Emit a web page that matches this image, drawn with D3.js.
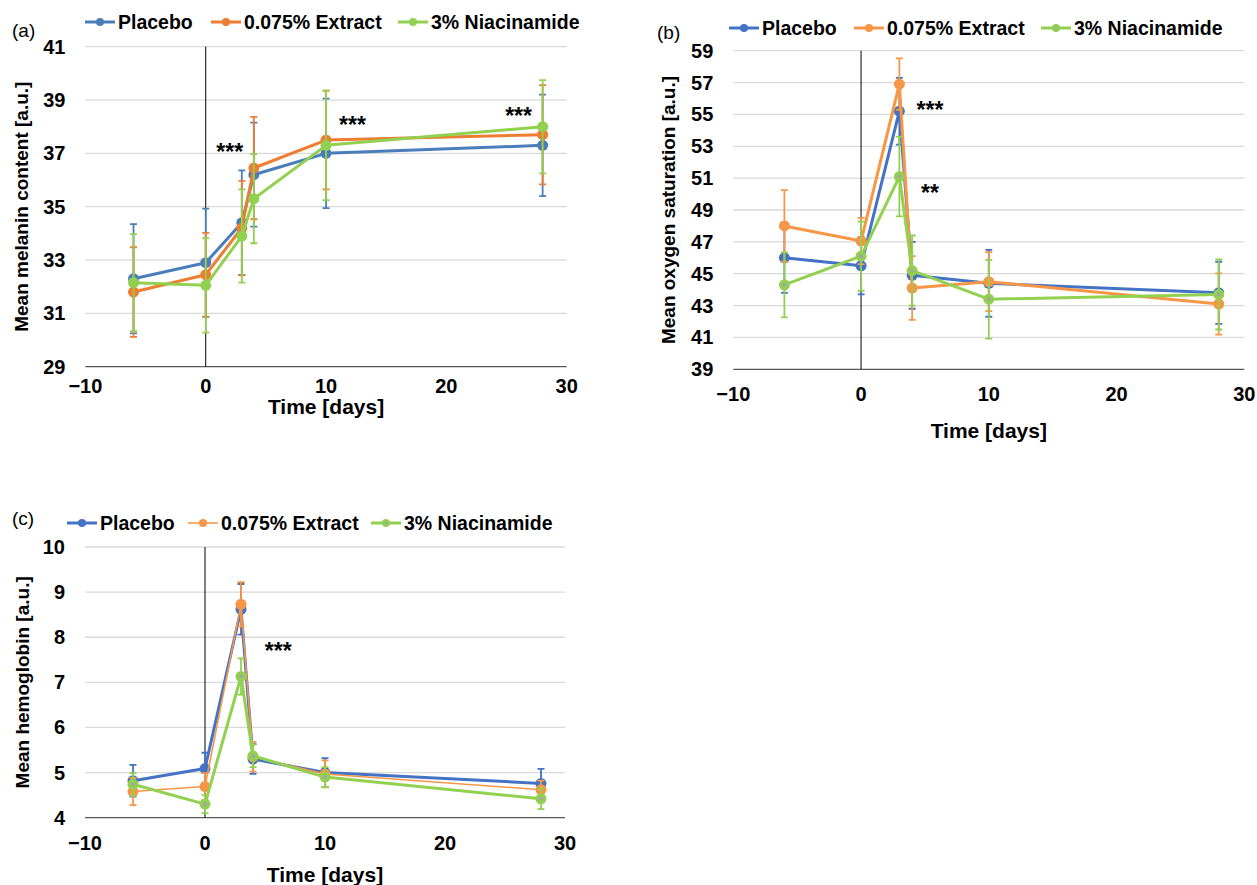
<!DOCTYPE html>
<html>
<head>
<meta charset="utf-8">
<script src="https://cdn.jsdelivr.net/npm/d3@7"></script>
<style>
  body { margin: 0; background: #fff; }
  text { font-family: "Liberation Sans", Arial, sans-serif; }
</style>
</head>
<body>
<svg id="svg" width="1257" height="885"></svg>
<script>
// time points (days) shared by all three panels
var days = [-6, 0, 3, 4, 10, 28];
var seriesNames = ["Placebo", "0.075% Extract", "3% Niacinamide"];

// (a) melanin
var melaninPlacebo = [32.3, 32.9, 34.4, 36.2, 37.0, 37.3];
var melaninPlaceboSd = [2.05, 2.03, 1.96, 1.95, 2.05, 1.9];
var melaninExtract = [31.8, 32.45, 34.2, 36.45, 37.5, 37.7];
var melaninExtractSd = [1.68, 1.57, 1.77, 1.92, 1.85, 1.86];
var melaninNiacin = [32.15, 32.05, 33.9, 35.3, 37.3, 38.0];
var melaninNiacinSd = [1.82, 1.77, 1.75, 1.67, 2.05, 1.75];

// (b) oxygen saturation
var oxyPlacebo = [46.0, 45.5, 55.2, 44.9, 44.4, 43.8];
var oxyPlaceboSd = [2.2, 1.8, 2.1, 2.1, 2.1, 1.95];
var oxyExtract = [48.0, 47.05, 56.9, 44.1, 44.5, 43.1];
var oxyExtractSd = [2.25, 1.45, 1.62, 2.0, 1.85, 1.92];
var oxyNiacin = [44.3, 46.1, 51.1, 45.2, 43.4, 43.7];
var oxyNiacinSd = [2.04, 2.17, 2.5, 2.2, 2.47, 2.2];

// (c) hemoglobin
var hbPlacebo = [4.82, 5.09, 8.62, 5.3, 5.0, 4.76];
var hbPlaceboSd = [0.35, 0.35, 0.56, 0.33, 0.32, 0.32];
var hbExtract = [4.58, 4.69, 8.73, 5.35, 4.97, 4.62];
var hbExtractSd = [0.3, 0.3, 0.49, 0.33, 0.3, 0.2];
var hbNiacin = [4.74, 4.3, 7.13, 5.37, 4.9, 4.42];
var hbNiacinSd = [0.25, 0.2, 0.4, 0.25, 0.22, 0.23];

// axis ticks
var xTicks = [-10, 0, 10, 20, 30];
var melaninTicks = [29, 31, 33, 35, 37, 39, 41];
var oxyTicks = [39, 41, 43, 45, 47, 49, 51, 53, 55, 57, 59];
var hbTicks = [4, 5, 6, 7, 8, 9, 10];

// significance marks [day, value, text]
var melaninStars = [[2.0, 37.24, "***"], [12.2, 38.25, "***"], [26.0, 38.6, "***"]];
var oxyStars = [[5.4, 55.6, "***"], [5.4, 50.4, "**"]];
var hbStars = [[6.1, 7.8, "***"]];

var svg = d3.select("#svg");

function drawPanel(p) {
	var g = svg.append("g");
	var x = d3.scaleLinear().domain([-10, 30]).range([p.left, p.right]);
	var y = d3.scaleLinear().domain([p.yTicks[0], p.yTicks[p.yTicks.length - 1]]).range([p.bottom, p.top]);

	// gridlines
	g.selectAll(".grid").data(p.yTicks.slice(1)).enter().append("line")
		.attr("x1", p.left).attr("x2", p.right)
		.attr("y1", d => y(d)).attr("y2", d => y(d))
		.style("stroke", "#d9d9d9").style("stroke-width", 1.3);

	// x axis line + vertical axis crossing at 0
	g.append("line").attr("x1", p.left).attr("x2", p.right)
		.attr("y1", p.bottom).attr("y2", p.bottom)
		.style("stroke", "#595959").style("stroke-width", 1.3);
	g.append("line").attr("x1", x(0)).attr("x2", x(0))
		.attr("y1", p.top).attr("y2", p.bottom)
		.style("stroke", "#000").style("stroke-width", 1);

	// tick labels
	g.selectAll(".yl").data(p.yTicks).enter().append("text")
		.attr("x", p.left - 20).attr("y", d => y(d) + 7)
		.attr("text-anchor", "end")
		.style("font-size", "20px").style("font-weight", "bold")
		.text(d => d);
	g.selectAll(".xl").data(xTicks).enter().append("text")
		.attr("x", d => x(d)).attr("y", p.bottom + p.tickOff)
		.attr("text-anchor", "middle")
		.style("font-size", "20px").style("font-weight", "bold")
		.text(d => d < 0 ? "\u2212" + Math.abs(d) : d);

	// axis titles
	g.append("text")
		.attr("transform", "translate(" + (p.titleX) + "," + ((p.top + p.bottom) / 2) + ") rotate(-90)")
		.attr("text-anchor", "middle").attr("dy", "0.35em")
		.style("font-size", "19px").style("font-weight", "bold")
		.text(p.yTitle);
	g.append("text")
		.attr("x", (p.left + p.right) / 2).attr("y", p.xTitleY)
		.attr("text-anchor", "middle")
		.style("font-size", "21px").style("font-weight", "bold")
		.text("Time [days]");

	// panel letter
	g.append("text").attr("x", p.letterX).attr("y", p.letterY)
		.style("font-size", "19px").text(p.letter);

	// series
	var line = d3.line().x(d => x(d[0])).y(d => y(d[1]));
	p.series.forEach(function(s, si) {
		var pts = days.map((d, i) => [d, s.values[i], s.sd[i]]);
		var sg = g.append("g");
		// error bars
		sg.selectAll(".eb").data(pts).enter().append("path")
			.attr("d", d => {
				var xx = x(d[0]), y1 = y(d[1] + d[2]), y2 = y(d[1] - d[2]);
				return "M" + xx + "," + y1 + "V" + y2 +
					"M" + (xx - 3.5) + "," + y1 + "H" + (xx + 3.5) +
					"M" + (xx - 3.5) + "," + y2 + "H" + (xx + 3.5);
			})
			.style("stroke", s.color).style("stroke-width", 1.8).style("fill", "none");
		sg.append("path").attr("d", line(pts))
			.style("stroke", s.color).style("stroke-width", s.width).style("fill", "none")
			.style("stroke-linejoin", "round");
		sg.selectAll(".mk").data(pts).enter().append("circle")
			.attr("cx", d => x(d[0])).attr("cy", d => y(d[1])).attr("r", 5.5)
			.style("fill", s.color);
		if (s.dot) {
			sg.selectAll(".dt").data(pts).enter().append("circle")
				.attr("cx", d => x(d[0])).attr("cy", d => y(d[1])).attr("r", 2)
				.style("fill", "#a5a5a5");
		}
	});

	// significance stars
	g.selectAll(".st").data(p.stars).enter().append("text")
		.attr("x", d => x(d[0])).attr("y", d => y(d[1]) + 13)
		.attr("text-anchor", "middle")
		.style("font-size", "23px").style("font-weight", "bold")
		.text(d => d[2]);

	// legend
	var lg = g.append("g");
	p.legendX.forEach(function(lx, i) {
		var s = p.series[i];
		lg.append("line").attr("x1", lx).attr("x2", lx + 30)
			.attr("y1", p.legendY).attr("y2", p.legendY)
			.style("stroke", s.color).style("stroke-width", s.width);
		lg.append("circle").attr("cx", lx + 15).attr("cy", p.legendY).attr("r", 4)
			.style("fill", s.color);
		if (s.dot) lg.append("circle").attr("cx", lx + 15).attr("cy", p.legendY).attr("r", 1.5)
			.style("fill", "#a5a5a5");
		lg.append("text").attr("x", lx + 33).attr("y", p.legendY + 7)
			.style("font-size", "19.5px").style("font-weight", "bold")
			.text(seriesNames[i]);
	});
}

drawPanel({
	left: 85.4, right: 566.7, top: 46.7, bottom: 366.7, tickOff: 26,
	yTicks: melaninTicks, yTitle: "Mean melanin content [a.u.]", titleX: 21, xTitleY: 414,
	letter: "(a)", letterX: 12, letterY: 37,
	legendX: [85, 211, 398], legendY: 22,
	stars: melaninStars,
	series: [
		{values: melaninPlacebo, sd: melaninPlaceboSd, color: "#4a7ebb", width: 3},
		{values: melaninExtract, sd: melaninExtractSd, color: "#ed7d31", width: 3},
		{values: melaninNiacin, sd: melaninNiacinSd, color: "#92d050", width: 3}
	]
});

drawPanel({
	left: 733.3, right: 1244.3, top: 50.7, bottom: 369.3, tickOff: 32,
	yTicks: oxyTicks, yTitle: "Mean oxygen saturation [a.u.]", titleX: 668, xTitleY: 438,
	letter: "(b)", letterX: 657, letterY: 39,
	legendX: [729, 854, 1041], legendY: 28,
	stars: oxyStars,
	series: [
		{values: oxyPlacebo, sd: oxyPlaceboSd, color: "#4472c4", width: 3},
		{values: oxyExtract, sd: oxyExtractSd, color: "#f79646", width: 3},
		{values: oxyNiacin, sd: oxyNiacinSd, color: "#92d050", width: 3, dot: true}
	]
});

drawPanel({
	left: 85, right: 565, top: 547, bottom: 817.7, tickOff: 32,
	yTicks: hbTicks, yTitle: "Mean hemoglobin [a.u.]", titleX: 22, xTitleY: 882,
	letter: "(c)", letterX: 12, letterY: 525,
	legendX: [67, 188, 371], legendY: 523,
	stars: hbStars,
	series: [
		{values: hbPlacebo, sd: hbPlaceboSd, color: "#4472c4", width: 3},
		{values: hbExtract, sd: hbExtractSd, color: "#f79646", width: 1.6},
		{values: hbNiacin, sd: hbNiacinSd, color: "#92d050", width: 3, dot: true}
	]
});
</script>
</body>
</html>
